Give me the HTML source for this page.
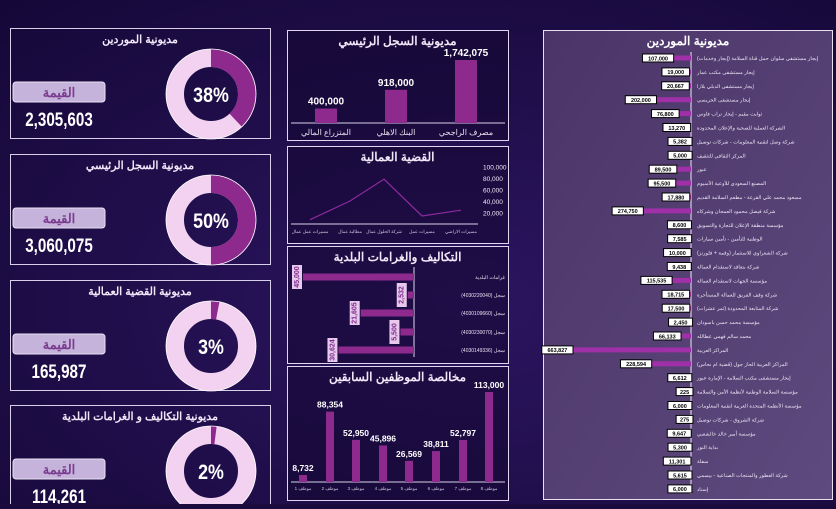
<!DOCTYPE html>
<html><head><meta charset="utf-8">
<style>
html,body{margin:0;padding:0;background:#1a0b3c;}
body{width:836px;height:504px;overflow:hidden;font-family:"Liberation Sans","Noto Sans CJK SC",sans-serif;}
svg text{font-family:"Liberation Sans","Noto Sans CJK SC",sans-serif;}
</style></head>
<body>
<svg id="root" width="836" height="504" viewBox="0 0 836 504" xmlns="http://www.w3.org/2000/svg">
<defs>
<radialGradient id="bg" cx="0.55" cy="0.6" r="0.8">
<stop offset="0" stop-color="#2c1560"/><stop offset="1" stop-color="#150838"/>
</radialGradient>
<linearGradient id="rp" x1="0" y1="0" x2="1" y2="1">
<stop offset="0" stop-color="#4b3468"/><stop offset="1" stop-color="#5e4a7e"/>
</linearGradient>
</defs>
<rect x="0" y="0" width="836" height="504" fill="url(#bg)"/>
<g id="cards"></g>
<g id="mid"></g>
<g id="right"></g>
</svg>
<script>
// KPI cards data
const cardTitles=["مديونية الموردين","مديونية السجل الرئيسي","مديونية القضية العمالية","مديونية التكاليف و الغرامات البلدية"];
const cardValues=["2,305,603","3,060,075","165,987","114,261"];
const cardPcts=[38,50,3,2];
// top bar chart
const topCats=["مصرف الراجحي","البنك الاهلي","المتزراع المالي"];
const topVals=[1742075,918000,400000];
// line chart
const lineCats=["مسيرات الاراضي","مسيرات عمل","شركة الحلول عمال","مطالبة عمال","مسيرات عمل عمال"];
const lineVals=[24000,14000,78000,40000,7500];
const lineTicks=[20000,40000,60000,80000,100000];
// hbar chart
const hCats=["غرامات البلدية","(4030220040) سجل","(4030109660) سجل","(4030230070) سجل","(4030149336) سجل"];
const hVals=[45000,2532,21605,5500,30624];
// bottom bar chart
const bCats=["موظف 1","موظف 2","موظف 3","موظف 4","موظف 5","موظف 6","موظف 7","موظف 8"];
const bVals=[8732,88354,52950,45896,26569,38811,52797,113000];
// right panel
const rCats=["إيجار مستشفى سلوان حمل قناة السلامة (إيجار وخدمات)","إيجار مستشفى مكتب عمار","إيجار مستشفى الدبلي بلازا","إيجار مستشفى الجريسي","ثوابت مقيم - إيجار تراب فاوس","الشركة العملية للصحية والإعلان المحدودة","شركة وصل لتقنية المعلومات - شركات توصيل","المركز الثقافي للتثقيف","عبور","المصنع السعودي للأوعية الأمنيوم","مسعود محمد علي القرعة - مطعم السلامة القديم","شركة فيصل محمود العمجان وشركاه","مؤسسة منطقة الإعلان للتجارة والتسويق","الوطنية للتأمين - تأمين سيارات","شركة الشعراوي للاستثمار (وقمة + فلورنز)","شركة بتعاقد لاستقدام العمالة","مؤسسة الجهات لاستقدام العمالة","شركة وقف الفريق للعمالة المستأجرة","شركة المتابعة المحدودة (ثمر عشرات)","مؤسسة محمد حسن باسودان","محمد سالم فهمي عطالله","المراكز العربية","المراكز العربية الحاز جول (قضية ام نحاس)","إيجار مستشفى مكتب السلامة - الإمارة عبور","مؤسسة السلامة الوطنية لأنظمة الأمن والسلامة","مؤسسة الأنظمة المتحدة العربية لتقنية المعلومات","شركة الشروق - شركات توصيل","مؤسسة أمير خالد خالشعبي","بداية النور","سفلة","شركة العطور والمنتجات الصناعية - بيسمي","إسناد"];
const rVals=[107000,19000,20667,202000,76800,13270,5382,5000,89500,95500,17880,274750,8600,7585,10000,9438,115535,18715,17500,2450,66133,663827,228594,6612,225,6000,275,9647,5300,11301,5615,6000];

const NS="http://www.w3.org/2000/svg";
function mk(tag,attrs,parent,txt){const e=document.createElementNS(NS,tag);for(const k in attrs)e.setAttribute(k,attrs[k]);if(txt!==undefined)e.textContent=txt;parent.appendChild(e);return e;}
const fmt=v=>v.toLocaleString("en-US");

// cards
const cards=document.getElementById("cards");
const cardY=[28,154,280,405];
cardTitles.forEach((t,i)=>{
  const y=cardY[i];
  const g=mk("g",{},cards);
  
  
  mk("rect",{x:10.5,y:y+0.5,width:260,height:110,fill:"none",stroke:"#d8d0e8","stroke-width":1},g);
  const tt=mk("text",{x:140,y:y+15,fill:"#f0e8f8","font-size":11,"font-weight":"bold","text-anchor":"middle",direction:"rtl"},g,t);
  
  
  const b=mk("rect",{x:13,y:y+54,width:92,height:20,rx:3,fill:"#c6b3dc",stroke:"#e8e0f0"},g);
  
  
  mk("text",{x:59,y:y+69,fill:"#7a3c8e","font-size":13,"font-weight":"bold","text-anchor":"middle"},g,"القيمة");
  const v=mk("text",{x:59,y:y+98,fill:"#ffffff","font-size":19,"font-weight":"bold","text-anchor":"middle",transform:`translate(59 0) scale(0.8 1) translate(-59 0)`},g,cardValues[i]);
  
  
  // donut
  const cx=211,cy=y+66,ro=45,ri=27,rm=(ro+ri)/2;
  const bg=mk("circle",{cx,cy,r:rm,fill:"none",stroke:"#f2d2f0","stroke-width":ro-ri},g);
  
  
  const p=cardPcts[i]/100, a=p*2*Math.PI;
  const x1=cx,y1=cy-rm,x2=cx+rm*Math.sin(a),y2=cy-rm*Math.cos(a);
  const arc=mk("path",{d:`M${x1} ${y1} A${rm} ${rm} 0 ${p>0.5?1:0} 1 ${x2} ${y2}`,fill:"none",stroke:"#8e2a8e","stroke-width":ro-ri},g);
  
  
  mk("circle",{cx,cy,r:ro,fill:"none",stroke:"#ffffff","stroke-width":0.8},g);
  const pt=mk("text",{x:cx,y:cy+8,fill:"#ffffff","font-size":21,"font-weight":"bold","text-anchor":"middle",transform:`translate(${cx} 0) scale(0.85 1) translate(${-cx} 0)`},g,cardPcts[i]+"%");
  
  
});

const mid=document.getElementById("mid");
function panel(x,y,w,h,title,name){
  const g=mk("g",{},mid);
  
  
  mk("rect",{x:x+0.5,y:y+0.5,width:w,height:h,fill:"rgba(20,8,50,0.55)",stroke:"#e0d8f0"},g);
  const t=mk("text",{x:x+w/2,y:y+15,fill:"#f0e8f8","font-size":12,"font-weight":"bold","text-anchor":"middle"},g,title);
  
  
  return g;
}
// top bar chart
{
  const g=panel(287,30,221,110,"مديونية السجل الرئيسي","main-ledger-chart");
  const base=123,xs=[466,396,326],maxV=1742075,H=63;
  const ys=v=>base-v/maxV*H;
  mk("line",{x1:291,y1:base,x2:505,y2:base,stroke:"#d8d0e8"},g);
  topVals.forEach((v,i)=>{
    const r=mk("rect",{x:xs[i]-11,y:ys(v),width:22,height:base-ys(v),fill:"#8e2a8e"},g);
    
    
    mk("text",{x:xs[i],y:ys(v)-4,fill:"#fff","font-size":10,"font-weight":"bold","text-anchor":"middle"},g,fmt(v));
    mk("text",{x:xs[i],y:base+12,fill:"#e8e0f0","font-size":8,"text-anchor":"middle"},g,topCats[i]);
  });
}
// line chart
{
  const g=panel(287,146,221,97,"القضية العمالية","labor-case-chart");
  const base=224,xs=[461,422,384,350,310],per=46/80000;
  const ys=v=>base-v*per;
  mk("line",{x1:291,y1:base,x2:478,y2:base,stroke:"#d8d0e8"},g);
  lineTicks.forEach(t=>mk("text",{x:483,y:ys(t)+3,fill:"#f0e8f8","font-size":6.5},g,fmt(t)));
  const pts=lineVals.map((v,i)=>xs[i]+","+ys(v)).join(" ");
  const pl=mk("polyline",{points:pts,fill:"none",stroke:"#8e2a9e","stroke-width":1.2},g);
  
  
  lineCats.forEach((c,i)=>mk("text",{x:xs[i],y:base+9,fill:"#cfc6df","font-size":4.5,"text-anchor":"middle"},g,c));
}
// hbar chart
{
  const g=panel(287,246,221,117,"التكاليف والغرامات البلدية","municipal-fees-chart");
  const axis=414,per=111/45000,ys=[277,295,313,332,350];
  mk("line",{x1:axis,y1:267,x2:axis,y2:357,stroke:"#e0d8f0"},g);
  hVals.forEach((v,i)=>{
    const w=v*per;
    const r=mk("rect",{x:axis-w,y:ys[i]-3.5,width:w,height:7,fill:"#8e2a8e"},g);
    
    
    const lx=axis-w-7;
    mk("rect",{x:lx-4,y:ys[i]-12,width:10,height:24,fill:"#e8c8ec"},g);
    mk("text",{x:lx+1,y:ys[i],fill:"#7a2a8a","font-size":7,"font-weight":"bold","text-anchor":"middle",transform:`rotate(-90 ${lx+1} ${ys[i]})`,"dominant-baseline":"middle"},g,fmt(v));
    mk("text",{x:505,y:ys[i]+2,fill:"#e8e0f0","font-size":5,"text-anchor":"end"},g,hCats[i]);
  });
}
// bottom bar chart
{
  const g=panel(287,366,221,134,"مخالصة الموظفين السابقين","former-employees-chart");
  const base=482,xs=[303,330,356,383,409,436,463,489],per=90/113000;
  mk("line",{x1:291,y1:base,x2:505,y2:base,stroke:"#d8d0e8"},g);
  bVals.forEach((v,i)=>{
    const h=v*per;
    const r=mk("rect",{x:xs[i]-4,y:base-h,width:8,height:h,fill:"#8e2a8e"},g);
    
    
    mk("text",{x:xs[i],y:base-h-4,fill:"#fff","font-size":8.5,"font-weight":"bold","text-anchor":"middle"},g,fmt(v));
    mk("text",{x:xs[i],y:base+8,fill:"#cfc6df","font-size":4.5,"text-anchor":"middle"},g,bCats[i]);
  });
}
// right panel
{
  const right=document.getElementById("right");
  const g=mk("g",{},right);
  
  
  mk("rect",{x:543.5,y:30.5,width:289,height:469,fill:"url(#rp)",stroke:"#e8e0f0"},g);
  const t=mk("text",{x:688,y:45,fill:"#fff","font-size":12,"font-weight":"bold","text-anchor":"middle"},g,"مديونية الموردين");
  
  
  const axis=691,per=120/663827,y0=58,dy=13.9;
  mk("line",{x1:axis,y1:52,x2:axis,y2:494,stroke:"#f0e8f8"},g);
  rVals.forEach((v,i)=>{
    const y=y0+i*dy,w=v*per;
    const r=mk("rect",{x:axis-w,y:y-2.5,width:w,height:5,fill:"#a030a8"},g);
    
    
    const bw=String(fmt(v)).length*3.6+6;
    mk("rect",{x:axis-w-bw+2,y:y-4,width:bw,height:8,fill:"#fff",stroke:"#000","stroke-width":1},g);
    mk("text",{x:axis-w-bw/2+2,y:y+2.3,fill:"#000","font-size":5.5,"font-weight":"bold","text-anchor":"middle"},g,fmt(v));
    mk("text",{x:697,y:y+2,fill:"#f0e8f8","font-size":5.2,"text-anchor":"start",direction:"ltr"},g,rCats[i]);
  });
}
</script>
</body></html>
